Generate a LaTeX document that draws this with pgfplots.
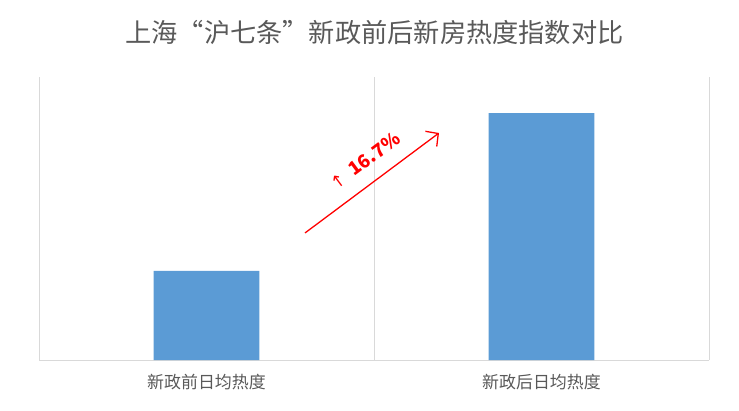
\documentclass[border=0pt]{standalone}
\usepackage{pgfplots}
\pgfplotsset{compat=1.18}
\usepackage{fontspec}
\setmainfont{Liberation Sans}
\newfontfamily\cjk{Noto Sans CJK SC}
\newfontfamily\symb{DejaVu Sans}
\usetikzlibrary{arrows.meta}
\definecolor{txt}{HTML}{595959}
\definecolor{gridc}{HTML}{D9D9D9}
\definecolor{barc}{HTML}{5B9BD5}
\definecolor{ann}{HTML}{FF0000}
\begin{document}
\begin{tikzpicture}
\path[use as bounding box] (0bp,0bp) rectangle (739bp,411bp);
\node[font=\cjk\fontsize{26.3}{30}\selectfont, text=txt] at (374.5bp,378bp)
  {上海“沪七条”新政前后新房热度指数对比};
\begin{axis}[
    at={(39bp,51bp)}, anchor=south west,
    scale only axis,
    width=670bp, height=283bp,
    xmin=-0.5, xmax=1.5,
    ymin=90.59, ymax=120.51,
    axis x line=bottom,
    axis y line=none,
    axis line style={gridc, line width=1bp, -},
    xtick={0,1},
    xticklabels={新政前日均热度, 新政后日均热度},
    major tick length=0pt,
    minor tick length=0pt,
    minor xtick={-0.5,0.5,1.5},
    xminorgrids=true,
    minor grid style={gridc, line width=1bp},
    ytick=\empty,
    xticklabel style={font=\cjk\fontsize{17}{20}\selectfont, text=txt, inner sep=0pt, yshift=-14bp},
    ybar,
    bar width=0.316,
    clip=false,
]
\addplot[fill=barc, draw=none] coordinates {(0,100) (1,116.7)};
\draw[ann, line width=1.3bp, -{Straight Barb[length=9bp, width=19bp]}]
  (axis cs:0.294,104.02) -- (axis cs:0.694,114.59);
\node[text=ann, rotate=36.7, inner sep=0pt] at (axis cs:0.473,111.63)
  {{\symb\fontsize{17}{18}\selectfont ↑}\hspace{9bp}{\cjk\bfseries\fontsize{18.5}{20}\selectfont 16.7\%}};
\end{axis}
\end{tikzpicture}
\end{document}
